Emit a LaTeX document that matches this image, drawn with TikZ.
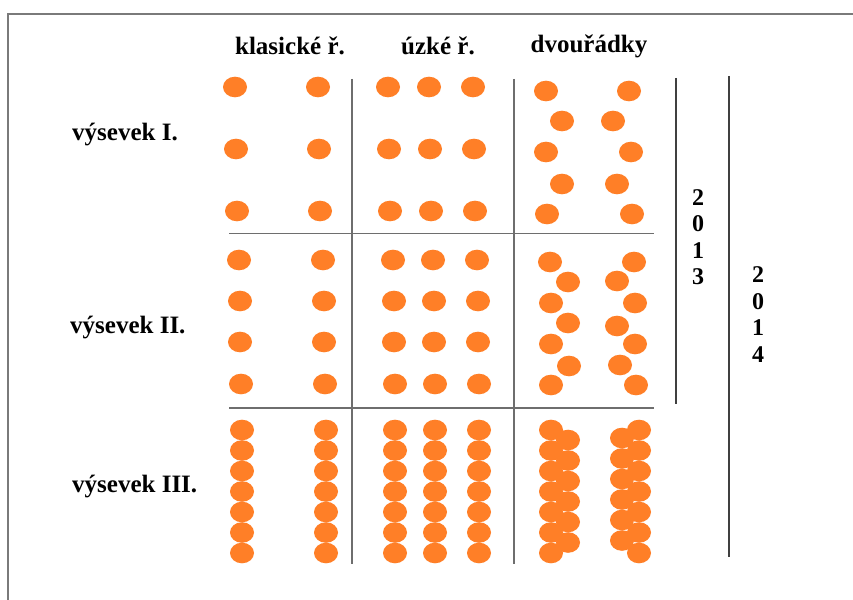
\documentclass[tikz,border=0pt]{standalone}
\usepackage{fontspec}
\setmainfont{Liberation Serif}
\definecolor{seed}{HTML}{FF7F27}
\definecolor{gridgray}{HTML}{6E6E6E}
\definecolor{framegray}{HTML}{7A7A7A}
\tikzset{
  grain/.style={fill=seed},
  gridline/.style={draw=gridgray,line width=1.3pt},
  yearline/.style={draw=black!75,line width=1.8pt},
  headtext/.style={font=\fontsize{25}{27}\selectfont\bfseries,inner sep=0pt},
  yeartext/.style={font=\fontsize{24}{26.5}\selectfont\bfseries,align=center,inner sep=0pt}
}
\begin{document}
\begin{tikzpicture}[x=1pt,y=-1pt]
\useasboundingbox[fill=white] (0,0) rectangle (853,599);
\draw[draw=framegray,line width=2pt] (8,600) -- (8,14) -- (854,14);
\coordinate (V1a) at (352,79);
\coordinate (V1b) at (352,564);
\coordinate (V2a) at (514,79);
\coordinate (V2b) at (514,564);
\coordinate (H1a) at (229,233.5);
\coordinate (H1b) at (654,233.5);
\coordinate (H2a) at (229,408);
\coordinate (H2b) at (654,408);
\coordinate (Y3a) at (676,78);
\coordinate (Y3b) at (676,404);
\coordinate (Y4a) at (729,76);
\coordinate (Y4b) at (729,557);
\draw[gridline] (V1a) -- (V1b);
\draw[gridline] (V2a) -- (V2b);
\draw[gridline] (H1a) -- (H1b);
\draw[gridline] (H2a) -- (H2b);
\draw[yearline] (Y3a) -- (Y3b);
\draw[yearline] (Y4a) -- (Y4b);
\node[headtext] (klasicke) at (290,46) {klasické ř.};
\node[headtext] (uzke) at (438,46) {úzké ř.};
\node[headtext] (dvouradky) at (589,46) {dvouřádky};
\node[headtext,anchor=west] (vysevekI) at (72,135) {výsevek I.};
\node[headtext,anchor=west] (vysevekII) at (70,328) {výsevek II.};
\node[headtext,anchor=west] (vysevekIII) at (72,487) {výsevek III.};
\node[yeartext] (rok2013) at (698,237) {2\\0\\1\\3};
\node[yeartext] (rok2014) at (758,314.5) {2\\0\\1\\4};
\foreach \y/\d in {87/0,149/1,211/2} {
  \fill[grain] (235+\d,\y) ellipse (12pt and 10.3pt);
  \fill[grain] (318+\d,\y) ellipse (12pt and 10.3pt);
  \fill[grain] (388+\d,\y) ellipse (12pt and 10.3pt);
  \fill[grain] (429+\d,\y) ellipse (12pt and 10.3pt);
  \fill[grain] (473+\d,\y) ellipse (12pt and 10.3pt);
}
\foreach \x/\y in {546/91,629/91,562/121,613/121,546/152,631/152,562/184,617/184,547/214,632/214}
  \fill[grain] (\x,\y) ellipse (12pt and 10.3pt);
\foreach \y/\d in {260/0,301/1,342/1,384/2} {
  \fill[grain] (239+\d,\y) ellipse (12pt and 10.3pt);
  \fill[grain] (323+\d,\y) ellipse (12pt and 10.3pt);
  \fill[grain] (393+\d,\y) ellipse (12pt and 10.3pt);
  \fill[grain] (433+\d,\y) ellipse (12pt and 10.3pt);
  \fill[grain] (477+\d,\y) ellipse (12pt and 10.3pt);
}
\foreach \x/\y in {550/262,568/282,551/303,568/323,551/344,569/366,551/385,634/262,617/281,635/303,617/326,635/344,620/365,636/385}
  \fill[grain] (\x,\y) ellipse (12pt and 10.3pt);
\foreach \i in {0,...,6} {
  \fill[grain] (242,430+20.5*\i) ellipse (12pt and 10.3pt);
  \fill[grain] (326,430+20.5*\i) ellipse (12pt and 10.3pt);
  \fill[grain] (395,430+20.5*\i) ellipse (12pt and 10.3pt);
  \fill[grain] (435,430+20.5*\i) ellipse (12pt and 10.3pt);
  \fill[grain] (479,430+20.5*\i) ellipse (12pt and 10.3pt);
  \fill[grain] (551,430+20.5*\i) ellipse (12pt and 10.3pt);
  \fill[grain] (639,430+20.5*\i) ellipse (12pt and 10.3pt);
}
\foreach \i in {0,...,5} {
  \fill[grain] (568,440+20.5*\i) ellipse (12pt and 10.3pt);
  \fill[grain] (622,438+20.5*\i) ellipse (12pt and 10.3pt);
}
\end{tikzpicture}
\end{document}
